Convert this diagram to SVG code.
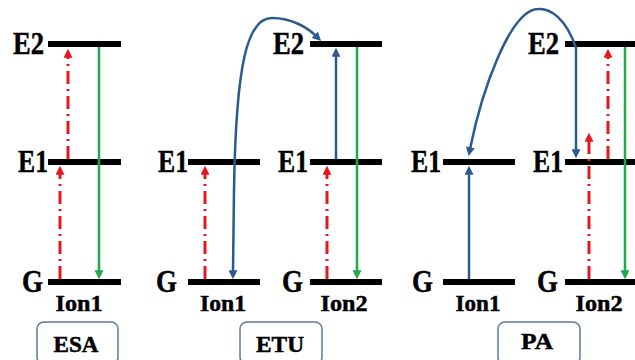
<svg xmlns="http://www.w3.org/2000/svg" width="635" height="360" viewBox="0 0 635 360">
<defs>
<style>
.bar{fill:#000}
text{font-family:"Liberation Serif","Times New Roman",serif;font-weight:bold;fill:#000;stroke:#000;stroke-width:0.5}
.lbl{font-size:31px;text-anchor:end}
.ion{font-size:24px;text-anchor:middle}
.box{fill:#fff;stroke:#5b7a99;stroke-width:1.5}
.boxt{font-size:23px;text-anchor:middle}
.red{stroke:#e3191f;stroke-width:3;fill:none;stroke-dasharray:13 5 2 5;marker-end:url(#ar)}
.grn{stroke:#1fa84c;stroke-width:2.5;fill:none;marker-end:url(#ag)}
.blu{stroke:#2b5a8f;stroke-width:2.5;fill:none;marker-end:url(#ab)}
.blu2{stroke:#2b5a8f;stroke-width:2.5;fill:none;marker-start:url(#abs);marker-end:url(#ab)}
</style>
<marker id="ar" viewBox="0 0 10 10" refX="2" refY="5" markerWidth="9" markerHeight="9" markerUnits="userSpaceOnUse" orient="auto"><path d="M0,0 L10,5 L0,10 z" fill="#e3191f"/></marker>
<marker id="ag" viewBox="0 0 10 10" refX="2" refY="5" markerWidth="9" markerHeight="9" markerUnits="userSpaceOnUse" orient="auto"><path d="M0,0 L10,5 L0,10 z" fill="#1fa84c"/></marker>
<marker id="ab" viewBox="0 0 10 10" refX="2" refY="5" markerWidth="9" markerHeight="9" markerUnits="userSpaceOnUse" orient="auto"><path d="M0,0 L10,5 L0,10 z" fill="#2b5a8f"/></marker>
<marker id="abs" viewBox="0 0 10 10" refX="8" refY="5" markerWidth="9" markerHeight="9" markerUnits="userSpaceOnUse" orient="auto"><path d="M10,0 L0,5 L10,10 z" fill="#2b5a8f"/></marker>
</defs>
<rect width="635" height="360" fill="#fff"/>
<!-- ESA -->
<g id="esa-ion1-e2"><rect class="bar" x="48" y="41" width="73" height="6"/><text class="lbl" x="44" y="54" textLength="31" lengthAdjust="spacingAndGlyphs">E2</text></g>
<g id="esa-ion1-e1"><rect class="bar" x="48" y="159" width="73" height="6"/><text class="lbl" x="48" y="172" textLength="30" lengthAdjust="spacingAndGlyphs">E1</text></g>
<g id="esa-ion1-g"><rect class="bar" x="48" y="279" width="73" height="6"/><text class="lbl" x="43" y="292" textLength="21" lengthAdjust="spacingAndGlyphs">G</text><text class="ion" x="79" y="311" textLength="47" lengthAdjust="spacingAndGlyphs">Ion1</text></g>
<g id="esa-label"><rect class="box" x="37" y="322" width="81" height="42" rx="7"/><text class="boxt" x="76" y="352" textLength="45" lengthAdjust="spacingAndGlyphs">ESA</text></g>

<!-- ETU -->
<g id="etu-ion1-e1"><rect class="bar" x="188" y="159" width="72" height="6"/><text class="lbl" x="188" y="172" textLength="30" lengthAdjust="spacingAndGlyphs">E1</text></g>
<g id="etu-ion1-g"><rect class="bar" x="188" y="279" width="72" height="6"/><text class="lbl" x="177" y="292" textLength="21" lengthAdjust="spacingAndGlyphs">G</text><text class="ion" x="223" y="311" textLength="46" lengthAdjust="spacingAndGlyphs">Ion1</text></g>
<g id="etu-ion2-e2"><rect class="bar" x="310" y="41" width="72" height="6"/><text class="lbl" x="304" y="54" textLength="31" lengthAdjust="spacingAndGlyphs">E2</text></g>
<g id="etu-ion2-e1"><rect class="bar" x="310" y="159" width="72" height="6"/><text class="lbl" x="308" y="172" textLength="30" lengthAdjust="spacingAndGlyphs">E1</text></g>
<g id="etu-ion2-g"><rect class="bar" x="310" y="279" width="72" height="6"/><text class="lbl" x="303" y="292" textLength="21" lengthAdjust="spacingAndGlyphs">G</text><text class="ion" x="344" y="311" textLength="47" lengthAdjust="spacingAndGlyphs">Ion2</text></g>
<g id="etu-label"><rect class="box" x="240" y="322" width="82" height="42" rx="7"/><text class="boxt" x="280" y="352" textLength="48" lengthAdjust="spacingAndGlyphs">ETU</text></g>

<!-- PA -->
<g id="pa-ion1-e1"><rect class="bar" x="443" y="159" width="72" height="6"/><text class="lbl" x="441" y="172" textLength="30" lengthAdjust="spacingAndGlyphs">E1</text></g>
<g id="pa-ion1-g"><rect class="bar" x="443" y="279" width="72" height="6"/><text class="lbl" x="433" y="292" textLength="21" lengthAdjust="spacingAndGlyphs">G</text><text class="ion" x="478" y="311" textLength="45" lengthAdjust="spacingAndGlyphs">Ion1</text></g>
<g id="pa-ion2-e2"><rect class="bar" x="565" y="41" width="72" height="6"/><text class="lbl" x="559" y="54" textLength="31" lengthAdjust="spacingAndGlyphs">E2</text></g>
<g id="pa-ion2-e1"><rect class="bar" x="565" y="159" width="72" height="6"/><text class="lbl" x="563" y="172" textLength="30" lengthAdjust="spacingAndGlyphs">E1</text></g>
<g id="pa-ion2-g"><rect class="bar" x="565" y="279" width="72" height="6"/><text class="lbl" x="558" y="292" textLength="21" lengthAdjust="spacingAndGlyphs">G</text><text class="ion" x="599" y="311" textLength="47" lengthAdjust="spacingAndGlyphs">Ion2</text></g>
<g id="pa-label"><rect class="box" x="498" y="322" width="82" height="42" rx="7"/><text class="boxt" x="537" y="349" textLength="32" lengthAdjust="spacingAndGlyphs">PA</text></g>

<g id="connectors">
<!-- ESA -->
<path class="red" d="M68 159 L68 56"/>
<path class="red" d="M60 279 L60 173"/>
<path class="grn" d="M99 47 L99 272"/>
<!-- ETU -->
<path class="red" d="M205 279 L205 173"/>
<path class="red" d="M327 279 L327 173"/>
<path class="blu" d="M336 159 L336 55"/>
<path class="grn" d="M357 47 L357 272"/>
<path class="blu2" d="M233 272 L234 190 C236 60 248 18 272 18 C292 18 308 28 316 36"/>
<!-- PA -->
<path class="blu" d="M469 279 L469 173"/>
<path class="red" d="M589 279 L589 140"/>
<path class="red" d="M608 159 L608 56"/>
<path class="grn" d="M625 47 L625 272"/>
<path class="blu2" d="M576 151 L576 48 C566 18 550 8 538 9 C510 10 482 90 470 149"/>
</g>
</svg>
